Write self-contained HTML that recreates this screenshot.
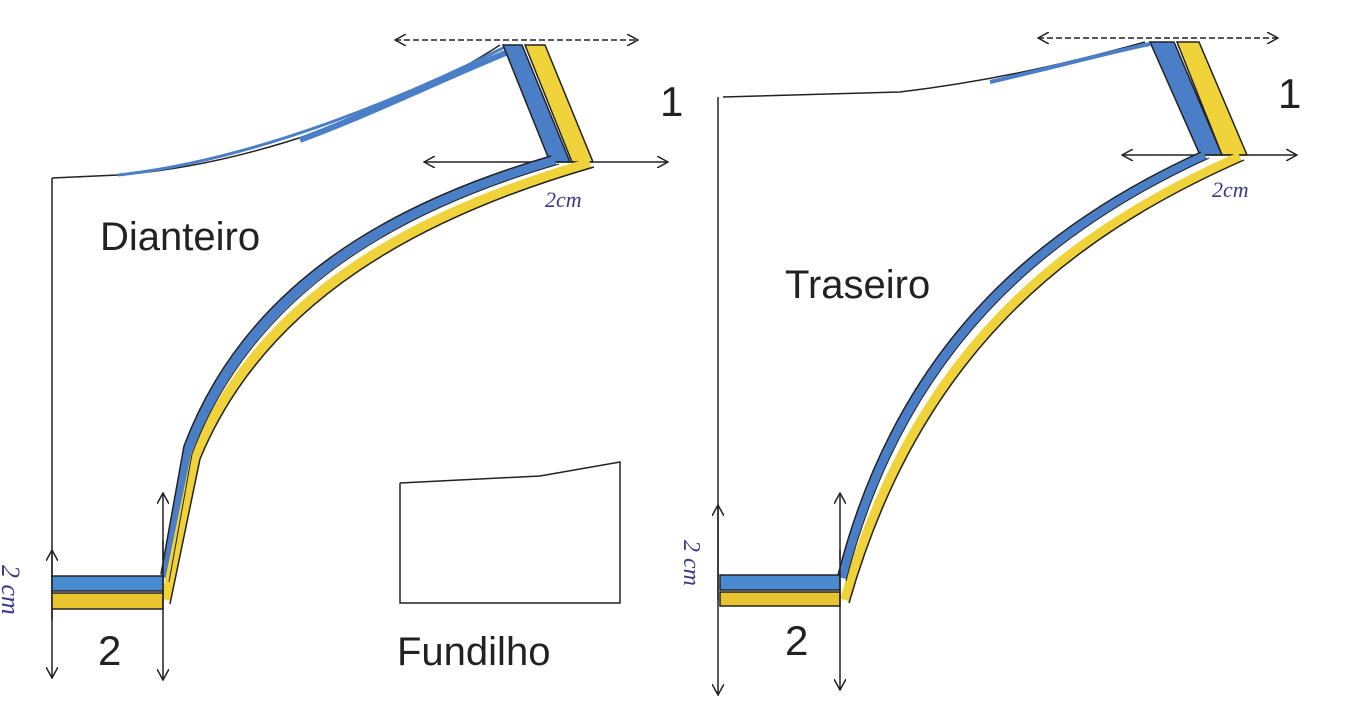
<!DOCTYPE html>
<html><head><meta charset="utf-8"><style>
html,body{margin:0;padding:0;background:#fff;}
svg{display:block}
text{font-family:"Liberation Sans",sans-serif;fill:#222}
.h{font-family:"Liberation Serif",serif;fill:#3a3a8c;font-style:italic}
</style></head><body>
<svg width="1364" height="720" viewBox="0 0 1364 720" xmlns="http://www.w3.org/2000/svg">
<defs>
<marker id="a" viewBox="0 0 12 12" refX="11" refY="6" markerWidth="12" markerHeight="12" orient="auto-start-reverse" markerUnits="userSpaceOnUse"><path d="M0,0 L11,6 L0,12" fill="none" stroke="#222" stroke-width="1.5"/></marker>
</defs>
<g stroke="#222" stroke-width="1.5" fill="none">
<!-- LEFT PIECE -->
<line x1="52" y1="178" x2="52" y2="678" marker-end="url(#a)"/>
<line x1="52" y1="620" x2="52" y2="550" marker-end="url(#a)"/>
<path d="M52,178 L118,175 C250,165 400,110 500,45"/>
<path d="M118,175 C260,160 420,90 505,47" stroke="#4a7fc8" stroke-width="3"/>
<path d="M300,140 C380,110 450,75 518,48" stroke="#4a7fc8" stroke-width="6"/>
<polygon points="503,45 522,45 570,162 550,162" fill="#4a7fc8"/>
<polygon points="525,45 545,45 593,162 572,162" fill="#f0d23a"/>
<line x1="395" y1="40" x2="638" y2="40" stroke-dasharray="6,3" marker-start="url(#a)" marker-end="url(#a)"/>
<line x1="424" y1="162" x2="668" y2="162" marker-start="url(#a)" marker-end="url(#a)"/>
<path d="M555,160 C400,205 250,285 188,450 L165,578" stroke="#4a7fc8" stroke-width="10"/>
<path d="M590,163 C420,212 262,295 196,455 L166,600" stroke="#f0d23a" stroke-width="10"/>
<path d="M555,160 C400,205 250,285 188,450 L165,578" transform="translate(-4,-4)"/>
<path d="M555,160 C400,205 250,285 188,450 L165,578" transform="translate(4,4)" stroke-width="1"/>
<path d="M590,163 C420,212 262,295 196,455 L166,600" transform="translate(4,4)"/>
<rect x="52" y="576" width="111" height="15" fill="#4a8ad0"/>
<rect x="52" y="593" width="111" height="16" fill="#e8c431"/>
<line x1="163" y1="540" x2="163" y2="680" marker-end="url(#a)"/>
<line x1="163" y1="560" x2="163" y2="493" marker-end="url(#a)"/>
<path d="M400,483 L400,603 L620,603 L620,462 L540,476 L400,483"/>
<!-- RIGHT PIECE -->
<line x1="718" y1="97" x2="718" y2="695" marker-end="url(#a)"/>
<line x1="718" y1="600" x2="718" y2="505" marker-end="url(#a)"/>
<path d="M723,97 L900,92 C1000,80 1080,60 1145,42"/>
<path d="M990,82 C1060,66 1110,52 1150,44" stroke="#4a7fc8" stroke-width="4"/>
<polygon points="1150,42 1174,42 1222,155 1200,155" fill="#4a7fc8"/>
<polygon points="1177,42 1199,42 1247,155 1222,155" fill="#f0d23a"/>
<line x1="1038" y1="38" x2="1278" y2="38" stroke-dasharray="6,3" marker-start="url(#a)" marker-end="url(#a)"/>
<line x1="1122" y1="155" x2="1297" y2="155" marker-start="url(#a)" marker-end="url(#a)"/>
<path d="M1205,155 C1040,230 900,350 842,578" stroke="#4a7fc8" stroke-width="10"/>
<path d="M1240,157 C1060,236 915,355 845,600" stroke="#f0d23a" stroke-width="10"/>
<path d="M1205,155 C1040,230 900,350 842,578" transform="translate(-4,-3)"/>
<path d="M1205,155 C1040,230 900,350 842,578" transform="translate(4,3)" stroke-width="1"/>
<path d="M1240,157 C1060,236 915,355 845,600" transform="translate(4,3)"/>
<rect x="720" y="575" width="120" height="15" fill="#4a8ad0"/>
<rect x="720" y="592" width="120" height="14" fill="#e8c431"/>
<line x1="840" y1="550" x2="840" y2="690" marker-end="url(#a)"/>
<line x1="840" y1="560" x2="840" y2="493" marker-end="url(#a)"/>
</g>
<text x="100" y="250" font-size="40">Dianteiro</text>
<text x="785" y="298" font-size="40">Traseiro</text>
<text x="397" y="665" font-size="40">Fundilho</text>
<text x="98" y="665" font-size="42">2</text>
<text x="785" y="655" font-size="42">2</text>
<text x="660" y="116" font-size="42">1</text>
<text x="1278" y="108" font-size="42">1</text>
<text class="h" x="545" y="207" font-size="22">2cm</text>
<text class="h" x="1212" y="197" font-size="22">2cm</text>
<text class="h" font-size="24" transform="translate(684,540) rotate(90)">2 cm</text>
<text class="h" font-size="26" transform="translate(2,565) rotate(90)">2 cm</text>
</svg>
</body></html>
